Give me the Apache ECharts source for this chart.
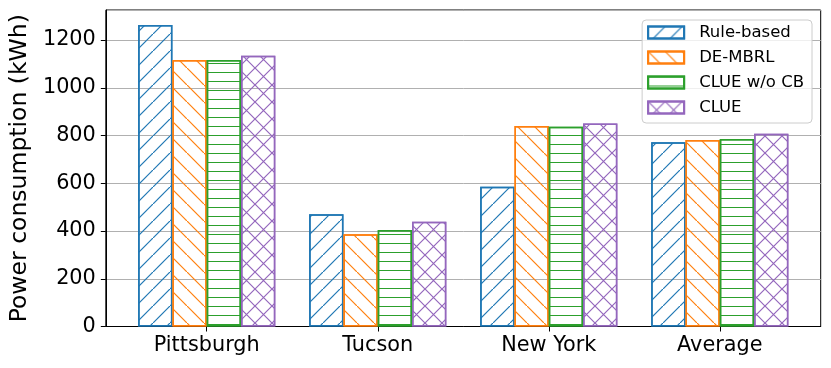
<!DOCTYPE html>
<html>
<head>
<meta charset="utf-8">
<script src="https://cdn.jsdelivr.net/npm/echarts@6/dist/echarts.min.js"></script>
<style>
html,body{margin:0;padding:0;background:#fff;}
#chart{width:831px;height:368px;}
</style>
</head>
<body>
<div id="chart"></div>
<script>
var categories = ['Pittsburgh', 'Tucson', 'New York', 'Average'];
var seriesNames = ['Rule-based', 'DE-MBRL', 'CLUE w/o CB', 'CLUE'];
var ruleBased = [1263, 470, 585, 772];
var deMbrl = [1116, 387, 840, 781];
var clueWoCb = [1116, 404, 837, 786];
var clue = [1134, 439, 851, 808];
var yTicks = [0, 200, 400, 600, 800, 1000, 1200];

var colors = ['#1f77b4', '#ff7f0e', '#2ca02c', '#9467bd'];
var SLASH = 'path://M0 95 L95 0 L100 0 L100 5 L5 100 L0 100 Z';
var BACK = 'path://M0 0 L5 0 L100 95 L100 100 L95 100 L0 5 Z';
var CROSS = 'path://M0 95 L95 0 L100 0 L100 5 L5 100 L0 100 Z M0 0 L5 0 L100 95 L100 100 L95 100 L0 5 Z';
var cell = 17;
var decals = [
  {symbol: SLASH, symbolSize: 1, dashArrayX: [cell, 0], dashArrayY: [cell, 0], color: colors[0], symbolKeepAspect: false},
  {symbol: BACK, symbolSize: 1, dashArrayX: [cell, 0], dashArrayY: [cell, 0], color: colors[1], symbolKeepAspect: false},
  {symbol: 'rect', symbolSize: 1, dashArrayX: [1, 0], dashArrayY: [1, cell / 2 - 1], color: colors[2]},
  {symbol: CROSS, symbolSize: 1, dashArrayX: [cell, 0], dashArrayY: [cell, 0], color: colors[3], symbolKeepAspect: false}
];
var allValues = [ruleBased, deMbrl, clueWoCb, clue];

var chart = echarts.init(document.getElementById('chart'), null, {renderer: 'canvas'});
var font = 'DejaVu Sans';
var series = allValues.map(function (vals, i) {
  return {
    name: seriesNames[i],
    type: 'bar',
    barWidth: 34.3,
    barGap: '0%',
    data: vals.map(function (v, j) { return [j, v]; }),
    itemStyle: {
      color: 'rgba(255,255,255,0)',
      borderColor: colors[i],
      borderWidth: 1.5,
      decal: decals[i]
    },
    emphasis: {disabled: true},
    z: 3
  };
});

chart.setOption({
  animation: false,
  backgroundColor: '#fff',
  grid: {
    left: 103.3, right: 10.3, top: 10, bottom: 41.5,
    show: true, borderColor: '#000', borderWidth: 1, backgroundColor: 'transparent',
    containLabel: false
  },
  legend: {
    orient: 'vertical',
    right: 19, top: 20,
    icon: 'rect',
    itemWidth: 36, itemHeight: 12, itemGap: 8,
    padding: [4, 8, 7, 5],
    backgroundColor: 'rgba(255,255,255,0.8)',
    borderColor: '#cccccc', borderWidth: 1, borderRadius: 4,
    textStyle: {fontFamily: font, fontSize: 16.5, color: '#000', padding: [0, 0, 0, 10]},
    data: seriesNames
  },
  xAxis: {
    type: 'value',
    min: -0.59, max: 3.59,
    axisLine: {show: true, onZero: false, lineStyle: {color: '#000', width: 1}},
    axisTick: {show: true, length: 5, customValues: [0, 1, 2, 3], lineStyle: {color: '#000'}},
    axisLabel: {
      customValues: [0, 1, 2, 3],
      formatter: function (v) { return categories[Math.round(v)]; },
      fontFamily: font, fontSize: 20.8, color: '#000', margin: 9
    },
    splitLine: {show: false}
  },
  yAxis: {
    type: 'value',
    min: 0, max: 1326, interval: 200,
    name: 'Power consumption (kWh)',
    nameLocation: 'middle', nameGap: 66,
    nameTextStyle: {fontFamily: font, fontSize: 23.5, color: '#000'},
    axisLine: {show: true, onZero: false, lineStyle: {color: '#000', width: 1}},
    axisTick: {show: true, length: 5, lineStyle: {color: '#000'}},
    axisLabel: {
      fontFamily: font, fontSize: 20.8, color: '#000', margin: 10,
      showMaxLabel: false,
      formatter: function (v) { return yTicks.indexOf(v) >= 0 ? String(v) : ''; }
    },
    splitLine: {show: true, lineStyle: {color: '#b0b0b0', width: 1}}
  },
  series: series
});
</script>
</body>
</html>
